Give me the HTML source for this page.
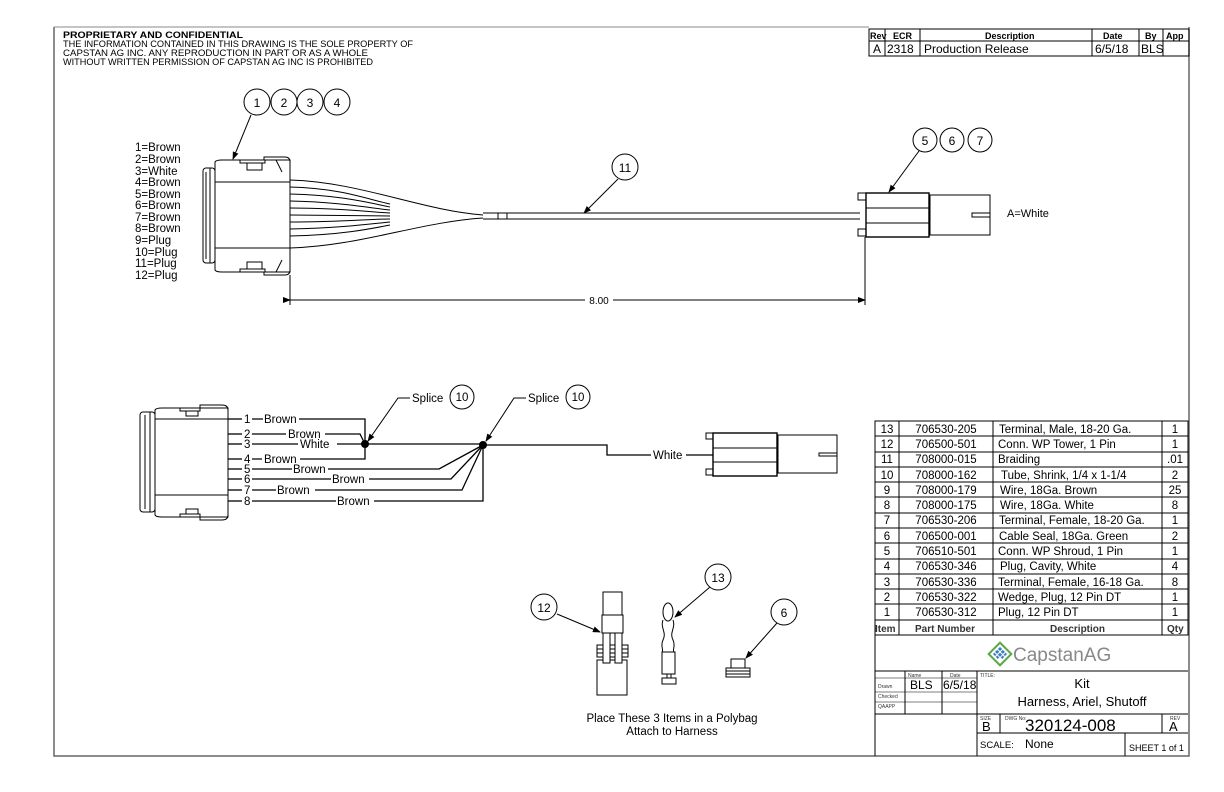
<!DOCTYPE html>
<html><head><meta charset="utf-8"><style>
html,body{margin:0;padding:0;background:#fff;}
svg{display:block;font-family:"Liberation Sans",sans-serif;}
</style></head><body>
<svg width="1224" height="792" viewBox="0 0 1224 792" xmlns="http://www.w3.org/2000/svg">
<defs><marker id="ar" markerWidth="8" markerHeight="6" refX="7" refY="3" orient="auto" markerUnits="userSpaceOnUse"><path d="M0,0 L8,3 L0,6 z" fill="#000"/></marker></defs>
<rect x="0" y="0" width="1224" height="792" fill="#fff"/>
<!-- frame -->
<path d="M1189,27 V756 H54 V27" fill="none" stroke="#666" stroke-width="1.5"/>
<line x1="54" y1="27" x2="869" y2="27" stroke="#888" stroke-width="1"/>
<g font-size="9" fill="#000">
<text x="63" y="38" font-weight="bold" textLength="180" lengthAdjust="spacingAndGlyphs">PROPRIETARY AND CONFIDENTIAL</text>
<text x="63" y="47" textLength="350" lengthAdjust="spacingAndGlyphs">THE INFORMATION CONTAINED IN THIS DRAWING IS THE SOLE PROPERTY OF</text>
<text x="63" y="56" textLength="305" lengthAdjust="spacingAndGlyphs">CAPSTAN AG INC. ANY REPRODUCTION IN PART OR AS A WHOLE</text>
<text x="63" y="65" textLength="310" lengthAdjust="spacingAndGlyphs">WITHOUT WRITTEN PERMISSION OF CAPSTAN AG INC IS PROHIBITED</text>
</g>
<!-- rev table -->
<g stroke="#000" stroke-width="1" fill="none">
<rect x="869" y="29" width="320" height="27"/>
<line x1="869" y1="41" x2="1189" y2="41"/>
<line x1="885" y1="29" x2="885" y2="56"/><line x1="920" y1="29" x2="920" y2="56"/>
<line x1="1092" y1="29" x2="1092" y2="56"/><line x1="1139" y1="29" x2="1139" y2="56"/><line x1="1163" y1="29" x2="1163" y2="56"/>
</g>
<g font-size="9" font-weight="bold"><text x="870" y="39">Rev</text><text x="893" y="39">ECR</text><text x="985" y="39">Description</text><text x="1103" y="39">Date</text><text x="1145" y="39">By</text><text x="1166" y="39">App</text></g>
<g font-size="12"><text x="873" y="53">A</text><text x="887" y="53">2318</text><text x="924" y="53">Production Release</text><text x="1095" y="53">6/5/18</text><text x="1141" y="53">BLS</text></g>

<!-- TOP DRAWING -->
<g stroke="#000" stroke-width="1" fill="none">
<rect x="203" y="168" width="12" height="95" rx="3"/>
<line x1="206" y1="172" x2="206" y2="259"/><line x1="210" y1="168" x2="210" y2="263"/>
<path d="M215,162 Q216,160 222,160 H290 V272 H222 Q216,272 215,270 Z"/>
<line x1="215" y1="182" x2="290" y2="182"/><line x1="215" y1="248" x2="290" y2="248"/>
<path d="M240,160 V163 H265 V160 M247,163 V170 H262 V163 M264,160 V157 H285 Q290,157 290,162"/>
<path d="M240,272 V269 H265 V272 M247,269 V262 H262 V269 M264,272 V275 H285 Q290,275 290,270"/>
<line x1="276" y1="160" x2="282" y2="172"/><line x1="276" y1="272" x2="282" y2="260"/>
<line x1="290" y1="275" x2="290" y2="305"/>
<path d="M290,180 C360,182 420,210 483,215"/>
<path d="M290,187 C340,188 370,200 390,204"/>
<path d="M290,194 C340,195 370,203 390,207"/>
<path d="M290,201 C340,202 370,208 390,210"/>
<path d="M290,208 C340,208 370,212 390,213"/>
<path d="M290,215 L390,216"/>
<path d="M290,222 C340,222 370,219 390,219"/>
<path d="M290,229 C340,228 370,224 390,222"/>
<path d="M290,236 C340,235 370,229 390,225"/>
<path d="M290,248 C360,246 420,222 483,218"/>
<line x1="483" y1="213" x2="860" y2="213"/><line x1="483" y1="219" x2="860" y2="219"/>
<line x1="498" y1="213" x2="498" y2="219"/><line x1="507" y1="213" x2="507" y2="219"/>
<rect x="866" y="193" width="63" height="44" stroke-width="1.4"/>
<line x1="866" y1="208" x2="929" y2="208"/><line x1="866" y1="223" x2="929" y2="223"/>
<rect x="858" y="193" width="8" height="7"/><rect x="858" y="229" width="8" height="7"/>
<rect x="930" y="195" width="60" height="40"/>
<rect x="972" y="213" width="18" height="4"/>
<line x1="865" y1="237" x2="865" y2="305"/>
<line x1="290" y1="300" x2="865" y2="300" marker-start="url(#ar)" marker-end="url(#ar)"/>
<circle cx="257" cy="102" r="13"/><circle cx="284" cy="102" r="13"/><circle cx="310" cy="102" r="13"/><circle cx="337" cy="102" r="13"/>
<line x1="251" y1="115" x2="233" y2="159" marker-end="url(#ar)"/>
<circle cx="925" cy="140" r="12"/><circle cx="952" cy="140" r="12"/><circle cx="980" cy="140" r="12"/>
<line x1="919" y1="151" x2="889" y2="192" marker-end="url(#ar)"/>
<circle cx="625" cy="167" r="13"/>
<line x1="618" y1="179" x2="584" y2="213" marker-end="url(#ar)"/>
</g>
<g font-size="12" text-anchor="middle"><text x="257" y="107">1</text><text x="284" y="107">2</text><text x="310" y="107">3</text><text x="337" y="107">4</text>
<text x="925" y="145">5</text><text x="952" y="145">6</text><text x="980" y="145">7</text><text x="625" y="172">11</text></g>
<rect x="585" y="294" width="28" height="12" fill="#fff"/>
<text x="599" y="304" font-size="10" text-anchor="middle">8.00</text>
<text x="1007" y="217" font-size="11">A=White</text>
<g font-size="11.5"><text x="135" y="151">1=Brown</text><text x="135" y="163">2=Brown</text><text x="135" y="175">3=White</text><text x="135" y="186">4=Brown</text><text x="135" y="198">5=Brown</text><text x="135" y="209">6=Brown</text><text x="135" y="221">7=Brown</text><text x="135" y="232">8=Brown</text><text x="135" y="244">9=Plug</text><text x="135" y="256">10=Plug</text><text x="135" y="267">11=Plug</text><text x="135" y="279">12=Plug</text></g>

<!-- SCHEMATIC -->
<g stroke="#000" stroke-width="1" fill="none">
<rect x="140" y="412" width="15" height="100" rx="3"/>
<line x1="145" y1="415" x2="145" y2="509"/><line x1="150" y1="412" x2="150" y2="512"/>
<path d="M155,410 Q156,408 162,408 H228 V517 H162 Q156,517 155,515 Z"/>
<line x1="155" y1="419" x2="228" y2="419"/><line x1="155" y1="495" x2="228" y2="495"/>
<path d="M180,408 V411 H200 V408 M186,411 V416 H198 V411 M200,408 V405 H222 Q228,405 228,410"/>
<path d="M180,517 V514 H200 V517 M186,514 V509 H198 V514 M200,517 V520 H222 Q228,520 228,515"/>
</g>
<g stroke="#000" stroke-width="1.3" fill="none">
<line x1="228" y1="419" x2="242" y2="419"/><line x1="228" y1="434" x2="242" y2="434"/><line x1="228" y1="444" x2="242" y2="444"/><line x1="228" y1="459" x2="242" y2="459"/>
<line x1="228" y1="469" x2="242" y2="469"/><line x1="228" y1="479" x2="242" y2="479"/><line x1="228" y1="490" x2="242" y2="490"/><line x1="228" y1="501" x2="242" y2="501"/>
<path d="M252,419 H263 M299,419 H365 V444"/>
<path d="M252,434 H286 M325,434 H360 L365,444"/>
<path d="M252,444 H298 M337,444 H483"/>
<path d="M252,459 H262 M300,459 H365 V444"/>
<path d="M252,469 H292 M328,469 H439 L483,445"/>
<path d="M252,479 H331 M369,479 H451 L483,445"/>
<path d="M252,490 H276 M315,490 H462 L483,445"/>
<path d="M252,501 H336 M374,501 H483 V445"/>
<path d="M483,445 H607 V455 H651 M686,455 H713"/>
</g>
<circle cx="365" cy="444" r="4" fill="#000"/><circle cx="483" cy="445" r="4" fill="#000"/>
<g font-size="11.5"><text x="244" y="423">1</text><text x="244" y="438">2</text><text x="244" y="448">3</text><text x="244" y="463">4</text><text x="244" y="473">5</text><text x="244" y="483">6</text><text x="244" y="494">7</text><text x="244" y="505">8</text>
<text x="264" y="423">Brown</text><text x="288" y="438">Brown</text><text x="300" y="448">White</text><text x="264" y="463">Brown</text><text x="293" y="473">Brown</text><text x="332" y="483">Brown</text><text x="277" y="494">Brown</text><text x="337" y="505">Brown</text>
<text x="653" y="459">White</text>
<text x="412" y="402">Splice</text><text x="528" y="402">Splice</text></g>
<g stroke="#000" stroke-width="1" fill="none">
<path d="M410,398 H398 L368,441" marker-end="url(#ar)"/>
<path d="M526,398 H514 L486,441" marker-end="url(#ar)"/>
<circle cx="462" cy="397" r="12"/><circle cx="578" cy="397" r="12"/>
<rect x="713" y="433" width="64" height="43" stroke-width="1.4"/>
<line x1="713" y1="448" x2="777" y2="448"/><line x1="713" y1="462" x2="777" y2="462"/>
<rect x="706" y="433" width="7" height="6"/><rect x="706" y="469" width="7" height="6"/>
<rect x="778" y="435" width="59" height="38"/>
<rect x="819" y="453" width="18" height="3"/>
</g>
<g font-size="11.5" text-anchor="middle"><text x="462" y="401">10</text><text x="578" y="401">10</text></g>

<!-- PARTS -->
<g stroke="#000" stroke-width="1" fill="none">
<rect x="603" y="592" width="19" height="23"/>
<rect x="602" y="615" width="21" height="18"/>
<rect x="597" y="645" width="31" height="12"/>
<line x1="597" y1="649" x2="628" y2="649"/><line x1="597" y1="653" x2="628" y2="653"/>
<rect x="597" y="660" width="30" height="35"/>
<rect x="603" y="633" width="7" height="30" fill="#fff"/><rect x="615" y="633" width="7" height="30" fill="#fff"/>
<circle cx="544" cy="607" r="13"/>
<line x1="557" y1="614" x2="600" y2="632" marker-end="url(#ar)"/>
<ellipse cx="668" cy="612" rx="5" ry="9"/>
<path d="M663,620 C660,628 667,632 663,640 C660,646 664,650 662,652 M673,620 C676,628 669,632 673,640 C676,646 672,650 674,652"/>
<rect x="662" y="652" width="13" height="22"/>
<line x1="667" y1="674" x2="667" y2="678"/><line x1="671" y1="674" x2="671" y2="678"/>
<rect x="662" y="678" width="14" height="6"/>
<circle cx="718" cy="577" r="13"/>
<line x1="710" y1="587" x2="675" y2="617" marker-end="url(#ar)"/>
<rect x="731" y="659" width="14" height="9"/>
<rect x="726" y="668" width="24" height="9"/>
<line x1="726" y1="671" x2="750" y2="671"/><line x1="726" y1="674" x2="750" y2="674"/>
<circle cx="784" cy="612" r="13"/>
<line x1="777" y1="623" x2="746" y2="658" marker-end="url(#ar)"/>
</g>
<g font-size="12" text-anchor="middle"><text x="544" y="612">12</text><text x="718" y="582">13</text><text x="784" y="617">6</text>
<text x="672" y="722" font-size="11.5">Place These 3 Items in a Polybag</text><text x="672" y="735" font-size="11.5">Attach to Harness</text></g>

<!-- BOM -->
<g stroke="#000" stroke-width="1" fill="none">
<rect x="875" y="421" width="313" height="214"/>
<line x1="899" y1="421" x2="899" y2="635"/><line x1="993" y1="421" x2="993" y2="635"/><line x1="1162" y1="421" x2="1162" y2="635"/>
<path d="M875,436H1188M875,452H1188M875,467H1188M875,482H1188M875,497H1188M875,513H1188M875,528H1188M875,543H1188M875,559H1188M875,574H1188M875,589H1188M875,604H1188M875,620H1188"/>
<line x1="875" y1="635" x2="875" y2="756"/>
<line x1="875" y1="671" x2="1188" y2="671"/>
<line x1="875" y1="714" x2="1188" y2="714"/>
<line x1="977" y1="671" x2="977" y2="756"/>
<line x1="905" y1="671" x2="905" y2="714"/><line x1="942" y1="671" x2="942" y2="714"/>
<path d="M875,678H977M875,692H977M875,702H977" stroke-width="0.6"/>
<line x1="977" y1="733" x2="1188" y2="733"/>
<line x1="1000" y1="714" x2="1000" y2="733"/><line x1="1162" y1="714" x2="1162" y2="733"/>
<line x1="1125" y1="733" x2="1125" y2="756"/>
</g>
<g font-size="11.5">
<g text-anchor="middle">
<text x="887" y="433">13</text><text x="887" y="448">12</text><text x="887" y="463">11</text><text x="887" y="479">10</text><text x="887" y="494">9</text><text x="887" y="509">8</text><text x="887" y="524">7</text><text x="887" y="540">6</text><text x="887" y="555">5</text><text x="887" y="570">4</text><text x="887" y="586">3</text><text x="887" y="601">2</text><text x="887" y="616">1</text>
<text x="946" y="433">706530-205</text><text x="946" y="448">706500-501</text><text x="946" y="463">708000-015</text><text x="946" y="479">708000-162</text><text x="946" y="494">708000-179</text><text x="946" y="509">708000-175</text><text x="946" y="524">706530-206</text><text x="946" y="540">706500-001</text><text x="946" y="555">706510-501</text><text x="946" y="570">706530-346</text><text x="946" y="586">706530-336</text><text x="946" y="601">706530-322</text><text x="946" y="616">706530-312</text>
<text x="1175" y="433">1</text><text x="1175" y="448">1</text><text x="1175" y="463">.01</text><text x="1175" y="479">2</text><text x="1175" y="494">25</text><text x="1175" y="509">8</text><text x="1175" y="524">1</text><text x="1175" y="540">2</text><text x="1175" y="555">1</text><text x="1175" y="570">4</text><text x="1175" y="586">8</text><text x="1175" y="601">1</text><text x="1175" y="616">1</text>
</g>
<text x="999" y="433">Terminal, Male, 18-20 Ga.</text><text x="998" y="448">Conn. WP Tower, 1 Pin</text><text x="998" y="463">Braiding</text><text x="1001" y="479">Tube, Shrink, 1/4 x 1-1/4</text><text x="1000" y="494">Wire, 18Ga. Brown</text><text x="1000" y="509">Wire, 18Ga. White</text><text x="999" y="524">Terminal, Female, 18-20 Ga.</text><text x="999" y="540">Cable Seal, 18Ga. Green</text><text x="998" y="555">Conn. WP Shroud, 1 Pin</text><text x="1000" y="570">Plug, Cavity, White</text><text x="998" y="586">Terminal, Female, 16-18 Ga.</text><text x="998" y="601">Wedge, Plug, 12 Pin DT</text><text x="998" y="616">Plug, 12 Pin DT</text>
</g>
<g font-size="10" font-weight="bold" fill="#333"><text x="875" y="632">Item</text><text x="915" y="632">Part Number</text><text x="1050" y="632">Description</text><text x="1167" y="632">Qty</text></g>
<g transform="translate(1000,654) rotate(45)">
<rect x="-8" y="-8" width="16" height="16" fill="none" stroke="#5aa845" stroke-width="2"/>
<g fill="#3b7fc4"><rect x="-5" y="-5" width="3" height="3"/><rect x="-1" y="-5" width="3" height="3"/><rect x="3" y="-5" width="2" height="3"/><rect x="-5" y="-1" width="3" height="3"/><rect x="-1" y="-1" width="3" height="3"/><rect x="3" y="-1" width="2" height="3"/><rect x="-5" y="3" width="3" height="2"/><rect x="-1" y="3" width="3" height="2"/></g>
</g>
<text x="1013" y="661" font-size="19" fill="#888">CapstanAG</text>
<g font-size="5" fill="#333"><text x="908" y="677">Name</text><text x="950" y="677">Date</text><text x="878" y="688">Drawn</text><text x="878" y="698">Checked</text><text x="878" y="708">QAAPP</text><text x="980" y="677">TITLE:</text><text x="980" y="720">SIZE</text><text x="1005" y="720">DWG No:</text><text x="1170" y="720">REV</text></g>
<g font-size="12"><text x="910" y="689">BLS</text><text x="943" y="689">6/5/18</text></g>
<g font-size="13" text-anchor="middle"><text x="1082" y="688">Kit</text><text x="1082" y="706">Harness, Ariel, Shutoff</text></g>
<text x="982" y="731" font-size="13">B</text>
<text x="1025" y="731" font-size="17">320124-008</text>
<text x="1169" y="731" font-size="13">A</text>
<text x="980" y="748" font-size="9.5">SCALE:</text><text x="1025" y="748" font-size="12">None</text>
<text x="1129" y="751" font-size="9">SHEET 1 of 1</text>
</svg>
</body></html>
